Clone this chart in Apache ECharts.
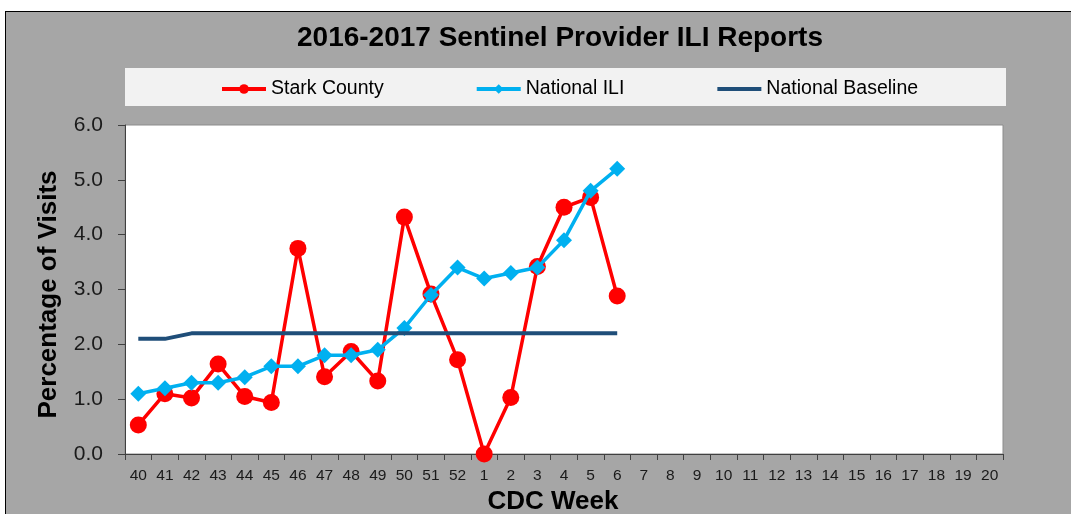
<!DOCTYPE html>
<html>
<head>
<meta charset="utf-8">
<script src="https://cdn.jsdelivr.net/npm/echarts@6/dist/echarts.min.js"></script>
<style>
  html, body { margin: 0; padding: 0; background: #ffffff; }
  #frame { position: absolute; left: 5px; top: 11px; width: 1066px; height: 503px;
           background: #a6a6a6; border-left: 1px solid #000; border-top: 1px solid #000; box-sizing: border-box; }
  #main { position: absolute; left: 0; top: 0; width: 1071px; height: 514px; }
</style>
</head>
<body>
<div id="frame"></div>
<div id="main"></div>
<script>
const weeks = ['40','41','42','43','44','45','46','47','48','49','50','51','52',
  '1','2','3','4','5','6','7','8','9','10','11','12','13','14','15','16','17','18','19','20'];
const starkCounty = [0.53, 1.1, 1.02, 1.64, 1.05, 0.94, 3.75, 1.41, 1.87, 1.33, 4.32, 2.92, 1.72,
  0.0, 1.03, 3.42, 4.5, 4.68, 2.88];
const nationalILI = [1.1, 1.2, 1.3, 1.3, 1.4, 1.6, 1.6, 1.8, 1.8, 1.9, 2.3, 2.9, 3.4,
  3.2, 3.3, 3.4, 3.9, 4.8, 5.2];
const nationalBaseline = [2.1, 2.1, 2.2, 2.2, 2.2, 2.2, 2.2, 2.2, 2.2, 2.2, 2.2, 2.2, 2.2,
  2.2, 2.2, 2.2, 2.2, 2.2, 2.2];
const yTicks = [0, 1, 2, 3, 4, 5, 6];

const pad = arr => weeks.map((w, i) => (i < arr.length ? arr[i] : null));
const font = '"Liberation Sans", Arial, sans-serif';

const chart = echarts.init(document.getElementById('main'), null, { renderer: 'canvas' });
chart.setOption({
  backgroundColor: 'transparent',
  animation: false,
  title: {
    text: '2016-2017 Sentinel Provider ILI Reports',
    left: 555, top: 19, textAlign: 'center',
    textStyle: { fontFamily: font, fontWeight: 'bold', fontSize: 28, color: '#000' }
  },
  graphic: [{
    type: 'rect', left: 125, top: 68, z: -1,
    shape: { width: 881, height: 38 },
    style: { fill: '#f2f2f2' }
  }],
  legend: {
    left: 220, top: 79, padding: 0, itemWidth: 44, itemHeight: 12, itemGap: 91,
    textStyle: { fontFamily: font, fontSize: 19.5, color: '#000' },
    data: [
      { name: 'Stark County', lineStyle: { width: 4 } },
      { name: 'National ILI', lineStyle: { width: 4 } },
      { name: 'National Baseline', lineStyle: { width: 4 }, itemStyle: { opacity: 0 } }
    ]
  },
  grid: {
    left: 125, top: 125, right: 68, bottom: 60, show: true,
    outerBoundsMode: 'none', containLabel: false,
    backgroundColor: '#ffffff', borderColor: '#8c8c8c', borderWidth: 1
  },
  xAxis: {
    type: 'category', data: weeks, boundaryGap: true,
    name: 'CDC Week', nameLocation: 'middle', nameGap: 31,
    nameTextStyle: { fontFamily: font, fontWeight: 'bold', fontSize: 26, color: '#000', padding: [0, 22, 0, 0] },
    axisLine: { lineStyle: { color: '#404040', width: 1 } },
    axisTick: { show: true, inside: false, length: 6, interval: 0, lineStyle: { color: '#404040' } },
    axisLabel: { interval: 0, margin: 14, fontFamily: font, fontSize: 15.5, color: '#1a1a1a' },
    splitLine: { show: false }
  },
  yAxis: {
    type: 'value', min: 0, max: 6, interval: 1,
    name: 'Percentage of Visits', nameLocation: 'middle', nameGap: 63,
    nameTextStyle: { fontFamily: font, fontWeight: 'bold', fontSize: 26, color: '#000', padding: [0, 10, 0, 0] },
    axisLine: { show: true, lineStyle: { color: '#404040', width: 1 } },
    axisTick: { show: true, inside: false, length: 7, lineStyle: { color: '#404040' } },
    axisLabel: { margin: 22, fontFamily: font, fontSize: 21, color: '#1a1a1a',
      formatter: v => (yTicks.includes(v) ? v.toFixed(1) : '') },
    splitLine: { show: false }
  },
  series: [
    {
      name: 'Stark County', type: 'line', data: pad(starkCounty),
      symbol: 'circle', symbolSize: 17, z: 2,
      lineStyle: { color: '#ff0000', width: 3.5 },
      itemStyle: { color: '#ff0000' }
    },
    {
      name: 'National ILI', type: 'line', data: pad(nationalILI),
      symbol: 'diamond', symbolSize: 16, z: 3,
      lineStyle: { color: '#00b0f0', width: 3.5 },
      itemStyle: { color: '#00b0f0' }
    },
    {
      name: 'National Baseline', type: 'line', data: pad(nationalBaseline),
      symbol: 'none', z: 4,
      lineStyle: { color: '#1f4e79', width: 4 },
      itemStyle: { color: '#1f4e79' }
    }
  ]
});
</script>
</body>
</html>
